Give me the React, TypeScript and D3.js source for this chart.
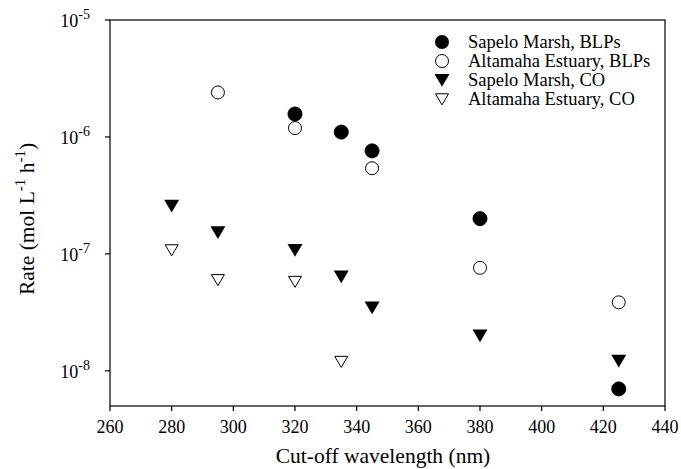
import React from "react";
import * as d3 from "d3";

const sapeloBLPx = [320, 335, 345, 380, 425];
const sapeloBLPy = [1.57e-6, 1.1e-6, 7.6e-7, 2.0e-7, 7.0e-9];
const altaBLPx = [295, 320, 345, 380, 425];
const altaBLPy = [2.4e-6, 1.19e-6, 5.4e-7, 7.6e-8, 3.85e-8];
const sapeloCOx = [280, 295, 320, 335, 345, 380, 425];
const sapeloCOy = [2.58e-7, 1.53e-7, 1.08e-7, 6.4e-8, 3.47e-8, 2.0e-8, 1.22e-8];
const altaCOx = [280, 295, 320, 335];
const altaCOy = [1.08e-7, 6.0e-8, 5.8e-8, 1.2e-8];

const xTicks = [260, 280, 300, 320, 340, 360, 380, 400, 420, 440];
const yTickExps = [-5, -6, -7, -8];
const legendLabels = [
  "Sapelo Marsh, BLPs",
  "Altamaha Estuary, BLPs",
  "Sapelo Marsh, CO",
  "Altamaha Estuary, CO",
];

const W = 681, H = 469;
const L = 110, R = 665, T = 20, B = 406;
const FONT = '"Liberation Serif", "Times New Roman", Tinos, "DejaVu Serif", serif';

export default function App() {
  const x = d3.scaleLinear().domain([260, 440]).range([L, R]);
  const y = d3.scaleLog().domain([5e-9, 1e-5]).range([B, T]);
  const tri = (cx: number, cy: number, s = 7.5) =>
    `M${cx - s},${cy - s * 0.8}L${cx + s},${cy - s * 0.8}L${cx},${cy + s * 0.9}Z`;
  const triSmall = (cx: number, cy: number) => tri(cx, cy, 6.5);

  const circle = (cx: number, cy: number, filled: boolean, k: string) => (
    <circle key={k} cx={cx} cy={cy} r={filled ? 7 : 6.5} fill={filled ? "#000" : "#fff"} stroke="#000" strokeWidth={1} />
  );

  return (
    <svg width={W} height={H} style={{ position: "absolute", left: 0, top: 0, background: "#fff", fontFamily: FONT }}>
      <rect x={0} y={0} width={W} height={H} fill="#fff" />
      <rect x={L} y={T} width={R - L} height={B - T} fill="none" stroke="#000" strokeWidth={1.2} />
      {xTicks.map((t) => (
        <g key={t}>
          <line x1={x(t)} x2={x(t)} y1={B} y2={B + 5} stroke="#000" strokeWidth={1.2} />
          <text x={x(t)} y={B + 27} fontSize={18} textAnchor="middle" style={{ fontFamily: FONT }}>{t}</text>
        </g>
      ))}
      {yTickExps.map((e) => {
        const yy = y(Math.pow(10, e));
        return (
          <g key={e}>
            <line x1={L - 5} x2={L} y1={yy} y2={yy} stroke="#000" strokeWidth={1.2} />
            <text x={90} y={yy + 7} fontSize={18} textAnchor="end" style={{ fontFamily: FONT }}>
              10<tspan fontSize={14} dy={-8}>{e}</tspan>
            </text>
          </g>
        );
      })}
      <text x={383} y={463} fontSize={21.5} textAnchor="middle" style={{ fontFamily: FONT }}>Cut-off wavelength (nm)</text>
      <text transform={`translate(34,219) rotate(-90)`} fontSize={21.5} textAnchor="middle" style={{ fontFamily: FONT }}>
        Rate (mol L<tspan fontSize={15} dy={-9}>-1</tspan><tspan dy={9}> h</tspan><tspan fontSize={15} dy={-9}>-1</tspan><tspan dy={9}>)</tspan>
      </text>

      {sapeloBLPx.map((v, i) => circle(x(v), y(sapeloBLPy[i]), true, "sb" + i))}
      {altaBLPx.map((v, i) => circle(x(v), y(altaBLPy[i]), false, "ab" + i))}
      {sapeloCOx.map((v, i) => (
        <path key={"sc" + i} d={tri(x(v), y(sapeloCOy[i]))} fill="#000" />
      ))}
      {altaCOx.map((v, i) => (
        <path key={"ac" + i} d={triSmall(x(v), y(altaCOy[i]))} fill="#fff" stroke="#000" strokeWidth={1} />
      ))}

      {legendLabels.map((lab, i) => {
        const ly = 42 + i * 19;
        const mx = 442;
        let marker;
        if (i === 0) marker = <circle cx={mx} cy={ly} r={7} fill="#000" />;
        else if (i === 1) marker = <circle cx={mx} cy={ly} r={6.5} fill="#fff" stroke="#000" />;
        else if (i === 2) marker = <path d={tri(mx, ly)} fill="#000" />;
        else marker = <path d={triSmall(mx, ly)} fill="#fff" stroke="#000" />;
        return (
          <g key={lab}>
            {marker}
            <text x={468} y={ly + 6} fontSize={18.5} style={{ fontFamily: FONT }}>{lab}</text>
          </g>
        );
      })}
    </svg>
  );
}
